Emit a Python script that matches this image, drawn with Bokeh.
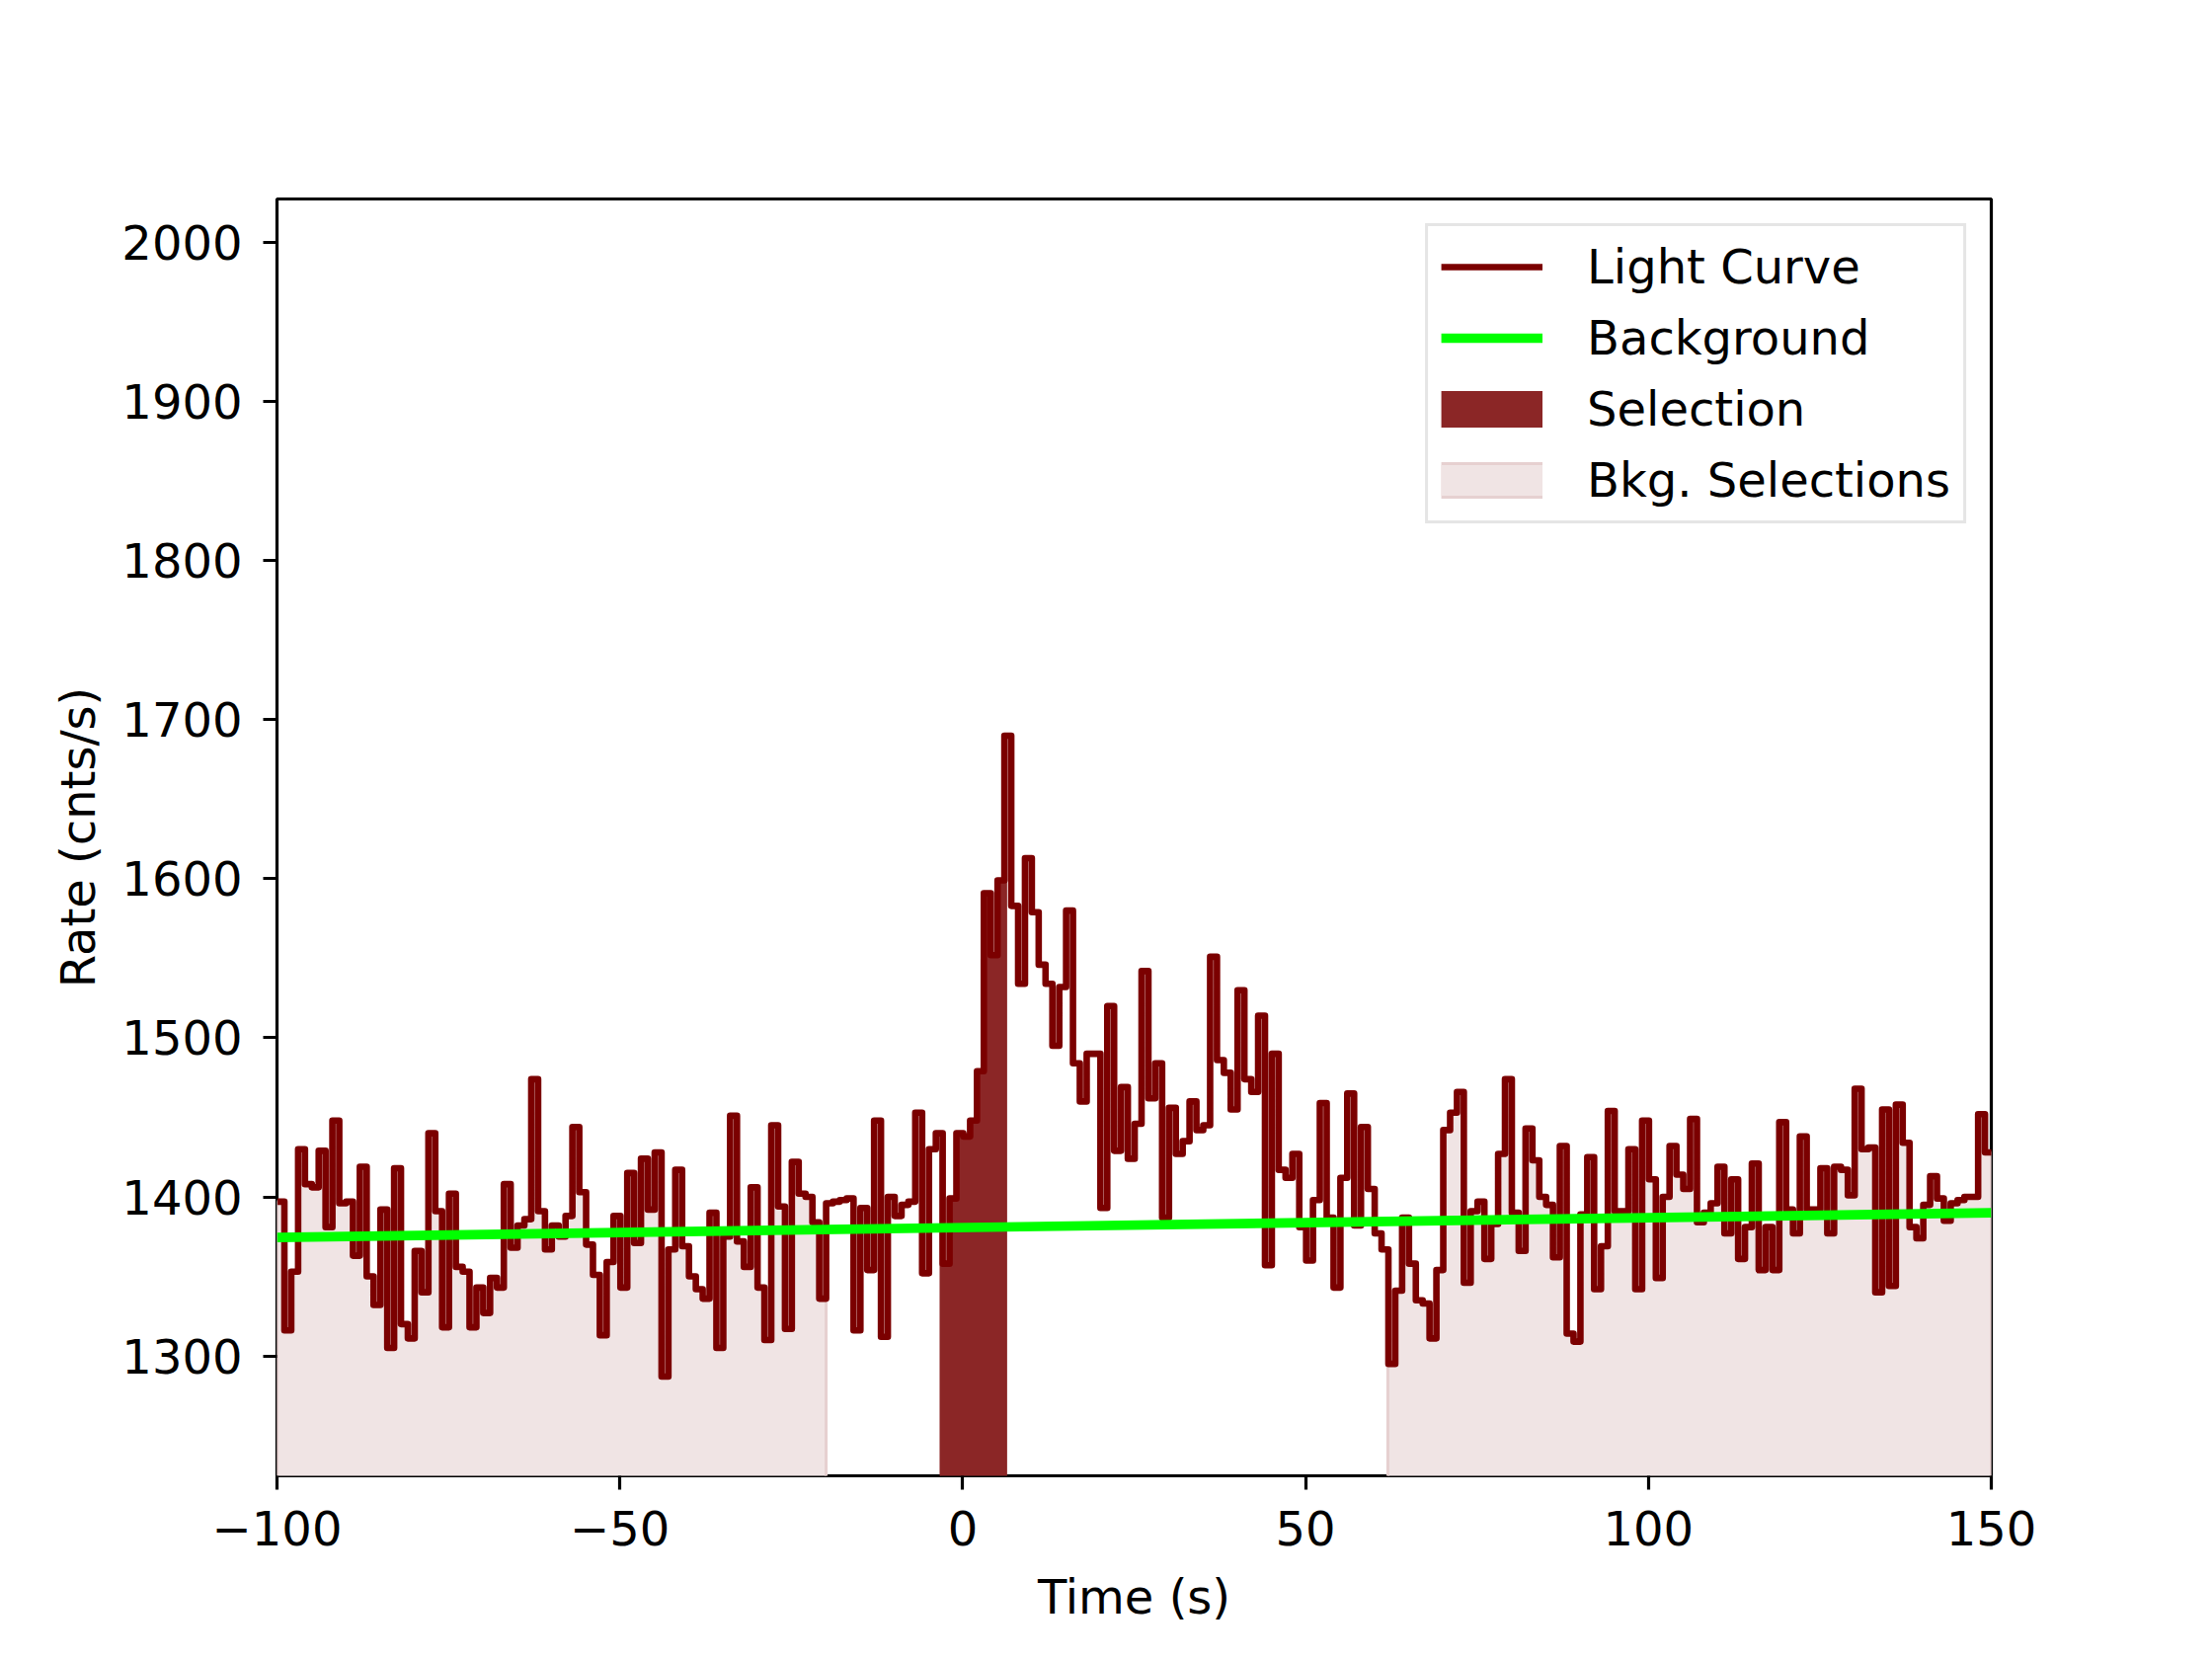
import numpy as np
from bokeh.plotting import figure
from bokeh.models import Range1d, FixedTicker, Legend, LegendItem
from bokeh.embed import file_html
from bokeh.resources import INLINE

# ---- data ----
bin_start = -99.92
bin_width = 1.0
rate = [
    1397, 1316, 1353, 1430, 1408, 1406, 1429, 1381, 1448, 1396,
    1397, 1363, 1419, 1350, 1332, 1392, 1305, 1418, 1320, 1311,
    1366, 1340, 1440, 1391, 1318, 1402, 1356, 1353, 1318, 1343,
    1327, 1349, 1343, 1408, 1368, 1382, 1386, 1474, 1391, 1367,
    1382, 1375, 1388, 1444, 1403, 1370, 1351, 1313, 1359, 1388,
    1343, 1415, 1371, 1424, 1392, 1428, 1287, 1367, 1417, 1369,
    1350, 1342, 1336, 1390, 1305, 1375, 1451, 1372, 1356, 1406,
    1343, 1310, 1445, 1394, 1317, 1422, 1402, 1400, 1384, 1336,
    1396, 1397, 1398, 1399, 1316, 1393, 1354, 1448, 1312, 1400,
    1388, 1395, 1397, 1453, 1352, 1430, 1440, 1358, 1399, 1440,
    1438, 1448, 1479, 1591, 1552, 1599, 1690, 1583, 1534, 1613,
    1579, 1546, 1534, 1495, 1532, 1580, 1484, 1460, 1490, 1490,
    1393, 1520, 1429, 1469, 1424, 1446, 1542, 1462, 1484, 1387,
    1456, 1427, 1435, 1460, 1442, 1445, 1551, 1486, 1478, 1455,
    1530, 1474, 1466, 1514, 1357, 1490, 1417, 1412, 1427, 1381,
    1360, 1398, 1459, 1387, 1343, 1412, 1465, 1382, 1444, 1405,
    1377, 1367, 1295, 1341, 1387, 1358, 1335, 1333, 1311, 1354,
    1442, 1453, 1466, 1346, 1391, 1397, 1361, 1383, 1427, 1474,
    1390, 1366, 1443, 1423, 1400, 1395, 1362, 1432, 1314, 1309,
    1389, 1425, 1342, 1369, 1454, 1391, 1391, 1430, 1342, 1448,
    1411, 1349, 1400, 1432, 1414, 1405, 1449, 1384, 1390, 1396,
    1419, 1377, 1411, 1361, 1381, 1421, 1354, 1381, 1354, 1447,
    1392, 1377, 1438, 1392, 1392, 1418, 1377, 1419, 1417, 1401,
    1468, 1430, 1431, 1340, 1455, 1344, 1458, 1434, 1381, 1374,
    1395, 1413, 1399, 1385, 1396, 1398, 1400, 1400, 1452, 1428,
]
bkg_time = [-100.0, 150.0]
bkg_rate = [1374.5, 1390.0]
sel_interval = [-3.3, 6.4]
bkg_intervals = [[-100.0, -19.92], [62.0, 150.0]]
x_ticks = [-100, -50, 0, 50, 100, 150]
x_tick_labels = ["\u2212100", "\u221250", "0", "50", "100", "150"]
y_ticks = [1300, 1400, 1500, 1600, 1700, 1800, 1900, 2000]

FONT = "DejaVu Sans"
FS = "48px"
LC_COLOR = "#7b0000"
SEL_COLOR = "#8b2626"
BKG_FILL = "#f0e4e4"
BKG_EDGE = "#e6d0d0"

r = np.asarray(rate, dtype=float)
edges = bin_start + bin_width * np.arange(len(r) + 1)
step_x = np.repeat(edges, 2)[1:-1]
step_y = np.repeat(r, 2)


def level(t):
    i = int(np.clip(np.floor((t - bin_start) / bin_width), 0, len(r) - 1))
    return r[i]


def region(a, b, floor_v=1100.0):
    xs = [a, a]
    ys = [floor_v, level(a)]
    for e in edges[(edges > a) & (edges < b)]:
        xs += [e, e]
        ys += [level(e - 1e-9), level(e + 1e-9)]
    xs += [b, b]
    ys += [level(b - 1e-9), floor_v]
    return xs, ys


p = figure(width=2224, height=1664,
           x_range=Range1d(-100, 150), y_range=Range1d(1224.6, 2027.5),
           output_backend="svg", toolbar_location=None,
           min_border_left=280, min_border_right=208,
           min_border_top=201, min_border_bottom=170)
p.background_fill_color = "white"
p.border_fill_color = "white"
p.outline_line_color = "black"
p.outline_line_width = 3.2
p.xgrid.visible = False
p.ygrid.visible = False

for a, b in bkg_intervals:
    xs, ys = region(a, b)
    p.patch(xs, ys, fill_color=BKG_FILL, line_color=BKG_EDGE, line_width=3)
sx, sy = region(sel_interval[0], sel_interval[1])
p.patch(sx, sy, fill_color=SEL_COLOR, line_color=SEL_COLOR, line_width=1)

lc = p.line(step_x, step_y, line_color=LC_COLOR, line_width=6.6, line_join="round")
bg = p.line(bkg_time, bkg_rate, line_color="#00ff00", line_width=9.7)

# legend-only swatches: NaN rates, so nothing is drawn in the plot area
nan_pair = np.array([np.nan, np.nan])
sel_key = p.line(x=np.array(sel_interval), y=nan_pair, line_color=SEL_COLOR, line_width=37)
bkg_key_edge = p.line(x=np.array(bkg_intervals[0]), y=nan_pair, line_color=BKG_EDGE, line_width=37)
bkg_key = p.line(x=np.array(bkg_intervals[0]), y=nan_pair, line_color=BKG_FILL, line_width=31)

p.xaxis.ticker = FixedTicker(ticks=x_ticks)
p.xaxis.major_label_overrides = {t: s for t, s in zip(x_ticks, x_tick_labels)}
p.yaxis.ticker = FixedTicker(ticks=y_ticks)
for ax in (p.xaxis[0], p.yaxis[0]):
    ax.axis_line_color = None
    ax.major_tick_in = 0
    ax.major_tick_out = 14
    ax.major_tick_line_width = 3.2
    ax.minor_tick_line_color = None
    ax.major_label_text_font = FONT
    ax.major_label_text_font_size = FS
    ax.major_label_text_color = "black"
    ax.major_label_standoff = 21
    ax.axis_label_text_font = FONT
    ax.axis_label_text_font_size = FS
    ax.axis_label_text_font_style = "normal"
    ax.axis_label_text_color = "black"
p.xaxis.axis_label = "Time (s)"
p.yaxis.axis_label = "Rate (cnts/s)"
p.xaxis.axis_label_standoff = 21
p.yaxis.axis_label_standoff = 13

legend = Legend(items=[
    LegendItem(label="Light Curve", renderers=[lc]),
    LegendItem(label="Background", renderers=[bg]),
    LegendItem(label="Selection", renderers=[sel_key]),
    LegendItem(label="Bkg. Selections", renderers=[bkg_key_edge, bkg_key]),
], location="top_right")
legend.label_text_font = FONT
legend.label_text_font_size = FS
legend.label_text_color = "black"
legend.glyph_width = 103
legend.glyph_height = 38
legend.label_height = 38
legend.spacing = 16
legend.padding = 13
legend.margin = 25
legend.label_standoff = 45
legend.border_line_color = "#cccccc"
legend.border_line_width = 3
legend.background_fill_alpha = 0.8
p.add_layout(legend)

open("out.html", "w").write(file_html(p, INLINE))
